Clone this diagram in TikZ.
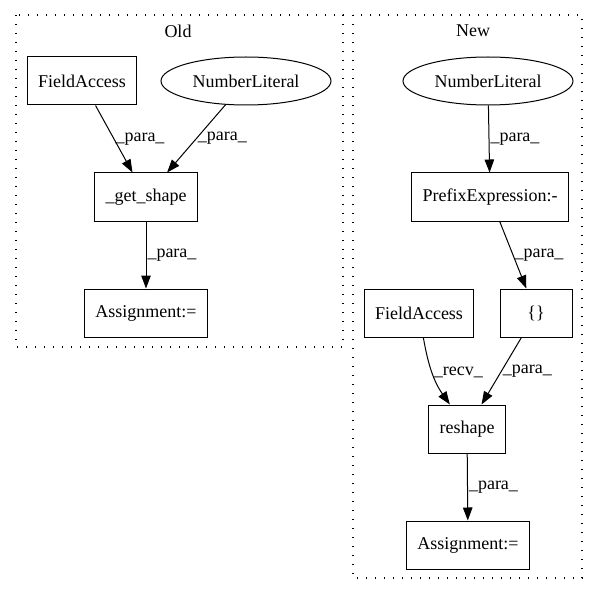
\documentclass[tikz,border=0pt]{standalone}
\usepackage{fontspec}
\setmainfont{Liberation Serif}
\usetikzlibrary{arrows.meta,shapes.geometric}

\newcommand{\dgfont}{\fontsize{18}{21}\selectfont}
\tikzstyle{box}=[draw,line width=1pt,rectangle,minimum width=72pt,minimum height=48pt,inner xsep=11pt,font=\dgfont]
\tikzstyle{oval}=[draw,line width=1pt,ellipse,minimum width=170pt,minimum height=48pt,inner sep=0pt,font=\dgfont]
\tikzstyle{edge} = [draw,line width=1pt,-{Triangle[length=13pt,width=9.5pt]}]
\tikzstyle{weight} = [font=\dgfont,anchor=west,inner sep=1pt]
\tikzstyle{cluster} = [draw,line width=1.3pt,dash pattern=on 1.3pt off 7.7pt]

\begin{document}
\begin{tikzpicture}[x=1pt, y=-1pt]
    \useasboundingbox (0,0) rectangle (599,596);
    % First we draw the two clusters
    \draw[cluster] (16,15) rectangle (343,347);
    \draw[cluster] (353,15) rectangle (582,578);
    \node[font=\dgfont] (oldtitle) at (178,31) {Old};
    \node[font=\dgfont] (newtitle) at (473,31) {New};
    % Then the boxes and the ovals
    \foreach \pos/\name/\text in {{(82,81)/oldfield/FieldAccess}, {(146,197)/getshape/\_get\_shape}, {(146,313)/oldassign/Assignment:=},
        {(490,197)/prefix/PrefixExpression:-}, {(536,313)/braces/\{\}}, {(419,313)/newfield/FieldAccess},
        {(467,429)/reshape/reshape}, {(468,545)/newassign/Assignment:=}}
        \node[box] (\name) at \pos {\text};
    \foreach \pos/\name in {{(246,81)/oldnum}, {(488,81)/newnum}}
        \node[oval] (\name) at \pos {NumberLiteral};
    % Connect them and put the labels on the edges
    \foreach \source/ \dest /\weight in {oldfield/getshape/\_para\_, oldnum/getshape/\_para\_, getshape/oldassign/\_para\_,
        newnum/prefix/\_para\_, prefix/braces/\_para\_, braces/reshape/\_para\_, reshape/newassign/\_para\_}
        \path[edge] (\source) -- node[weight] {\weight} (\dest);
    \path[edge] (newfield) to[out=-80, in=125] node[weight] {\_recv\_} (reshape);
\end{tikzpicture}
\end{document}
